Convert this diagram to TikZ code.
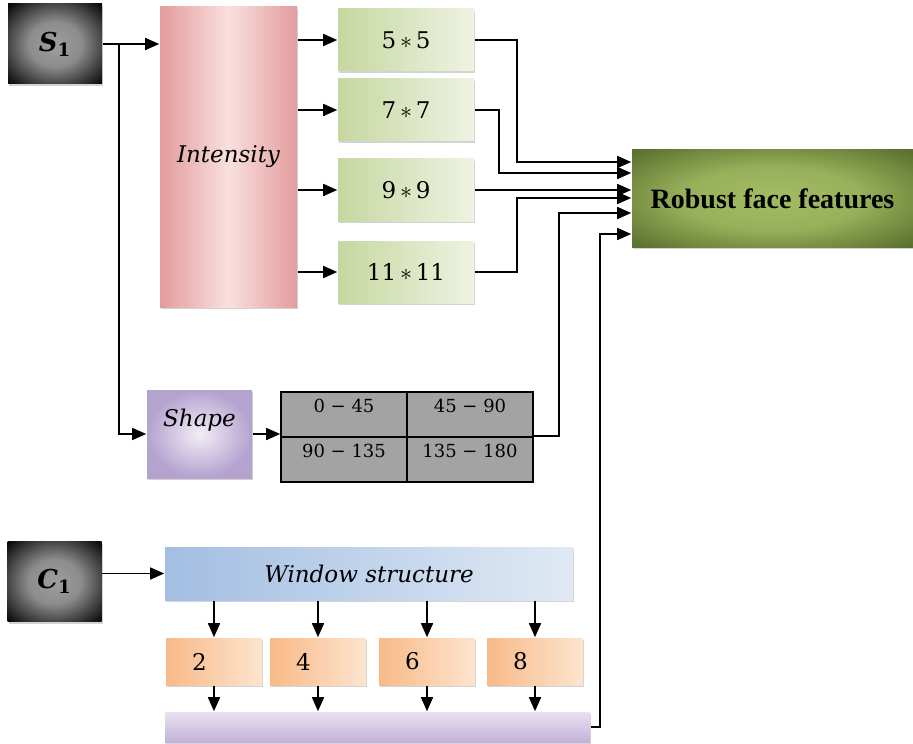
\documentclass[tikz,border=0pt]{standalone}
\usepackage{fontspec}
\setmainfont{DejaVu Serif}
\newfontfamily\timesfont{Liberation Serif}
\usetikzlibrary{arrows.meta,positioning,calc,shadows}

\definecolor{intD}{HTML}{E39C9C}
\definecolor{intL}{HTML}{FADFDF}
\definecolor{grnD}{HTML}{C6D7A0}
\definecolor{grnL}{HTML}{EEF3E2}
\definecolor{robD}{HTML}{5C7230}
\definecolor{robL}{HTML}{A3BB62}
\definecolor{shpD}{HTML}{B4A2CF}
\definecolor{shpL}{HTML}{F2EDF6}
\definecolor{winD}{HTML}{A3BEE2}
\definecolor{winL}{HTML}{E0E9F4}
\definecolor{orgD}{HTML}{F8BA88}
\definecolor{orgL}{HTML}{FDE4CE}
\definecolor{barD}{HTML}{C2B1D9}
\definecolor{barL}{HTML}{E9E2F1}
\definecolor{cell}{HTML}{A3A3A3}

\pgfdeclareradialshading{bevel}{\pgfpoint{0bp}{0bp}}{color(0bp)=(black!38); color(14bp)=(black!45); color(26bp)=(black!75); color(34bp)=(black!95); color(50bp)=(black)}
\pgfdeclareradialshading{olive}{\pgfpoint{0bp}{0bp}}{color(0bp)=(robL); color(16bp)=(robL!85!robD); color(34bp)=(robD); color(50bp)=(robD)}

\begin{document}
\begin{tikzpicture}[x=0.5pt, y=-0.5pt, line width=0.8pt, >={Triangle[length=7pt,width=6pt]},
		every node/.style={inner sep=0pt},
		blk/.style={drop shadow={shadow xshift=0.7pt, shadow yshift=-1pt, opacity=.35}},
		src/.style={blk, shading=bevel, minimum width=47pt, minimum height=40pt, font=\fontsize{13}{15}\selectfont\bfseries\itshape},
		inten/.style={blk, left color=intD, right color=intD, middle color=intL, minimum width=68.5pt, minimum height=150pt, font=\fontsize{11.5}{14}\selectfont\itshape},
		win/.style={blk, left color=grnD, right color=grnL, minimum width=68pt, minimum height=31pt, font=\fontsize{11.5}{13}\selectfont},
		robust/.style={blk, shading=olive, minimum width=140.5pt, minimum height=48.5pt, font=\fontsize{14}{16}\selectfont\timesfont\bfseries},
		shp/.style={blk, shading=radial, inner color=shpL, outer color=shpD, minimum width=52.5pt, minimum height=44pt, text depth=16pt, font=\fontsize{11.5}{14}\selectfont\itshape},
		ang/.style={draw, fill=cell, minimum width=63pt, minimum height=22.5pt, text depth=9pt, font=\fontsize{9}{11}\selectfont},
		wstruct/.style={blk, left color=winD, right color=winL, minimum width=204pt, minimum height=26.5pt, font=\fontsize{11.5}{14}\selectfont\itshape},
		wsize/.style={blk, left color=orgD, right color=orgL, text width=22pt, inner xsep=13pt, align=left, minimum height=23.5pt, font=\fontsize{11.5}{13}\selectfont},
		bar/.style={blk, top color=barL, bottom color=barD, minimum width=212.5pt, minimum height=15pt}]
	\useasboundingbox (0,0) rectangle (913,743);
	
	% intensity branch
	\node[src] (S1) at (55,44) {S\textsubscript{\upshape 1}};
	\node[inten] (Int) at (228.5,157) {Intensity};
	\node[win] (g5) at (406,40) {5\,$\ast$\,5};
	\node[win] (g7) at (406,110) {7\,$\ast$\,7};
	\node[win] (g9) at (406,190) {9\,$\ast$\,9};
	\node[win] (g11) at (406,272) {11\,$\ast$\,11};
	\node[robust] (Rob) at (772.5,198.5) {Robust face features};
	
	% shape branch
	\node[shp] (Shp) at (199.5,434) {Shape};
	\node[ang] (a1) at (344,414.5) {0 − 45};
	\node[ang] (a2) at (470,414.5) {45 − 90};
	\node[ang] (a3) at (344,459.5) {90 − 135};
	\node[ang] (a4) at (470,459.5) {135 − 180};
	
	% window branch
	\node[src] (C1) at (54.5,581.5) {C\textsubscript{\upshape 1}};
	\node[wstruct] (Win) at (369,573.5) {Window structure};
	\node[wsize] (w2) at (214,661.5) {2};
	\node[wsize] (w4) at (318,661.5) {4};
	\node[wsize] (w6) at (427,661.5) {6};
	\node[wsize] (w8) at (535,661.5) {8};
	\node[bar] (Bar) at (377.5,727) {};
	
	\coordinate (br) at ($(S1.east)+(16,0)$);
	\coordinate (r1) at ($(Rob.west)+(0,-36.5)$);
	\coordinate (r2) at ($(Rob.west)+(0,-25.5)$);
	\coordinate (r3) at (g9.east -| Rob.west);
	\coordinate (r4) at ($(Rob.west)+(0,-0.5)$);
	\coordinate (r5) at ($(Rob.west)+(0,14.5)$);
	\coordinate (r6) at ($(Rob.west)+(0,35.5)$);
	
	\draw[->] (S1.east) -- (S1.east -| Int.west);
	\draw[->] (br) |- (Shp.west);
	\draw[->] (Int.east |- g5.west) -- (g5.west);
	\draw[->] (Int.east |- g7.west) -- (g7.west);
	\draw[->] (Int.east |- g9.west) -- (g9.west);
	\draw[->] (Int.east |- g11.west) -- (g11.west);
	
	\draw[->] (g5.east) -- ++(42,0) |- (r1);
	\draw[->] (g7.east) -- ++(24,0) |- (r2);
	\draw[->] (g9.east) -- (r3);
	\draw[->] (g11.east) -- ++(42,0) |- (r4);
	\draw[->] (a4.north east) -- ++(25,0) |- (r5);
	\draw[->] (Bar.east) -- ++(9,0) |- (r6);
	
	\draw[->] (Shp.east) -- (Shp.east -| a1.west);
	\draw[->] (C1.east |- Win.west) -- (Win.west);
	\draw[->] (Win.south -| w2.north) -- (w2.north);
	\draw[->] (Win.south -| w4.north) -- (w4.north);
	\draw[->] (Win.south -| w6.north) -- (w6.north);
	\draw[->] (Win.south -| w8.north) -- (w8.north);
	\draw[->] (w2.south) -- (w2.south |- Bar.north);
	\draw[->] (w4.south) -- (w4.south |- Bar.north);
	\draw[->] (w6.south) -- (w6.south |- Bar.north);
	\draw[->] (w8.south) -- (w8.south |- Bar.north);
\end{tikzpicture}
\end{document}
